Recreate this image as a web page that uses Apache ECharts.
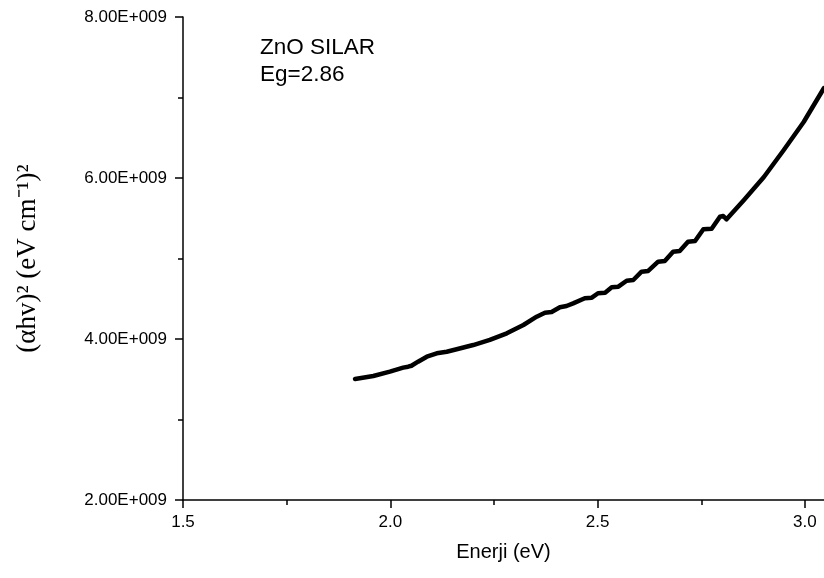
<!DOCTYPE html>
<html>
<head>
<meta charset="utf-8">
<script src="https://cdn.jsdelivr.net/npm/echarts@6/dist/echarts.min.js"></script>
<style>
  html, body { margin: 0; padding: 0; background: #fff; }
  #chart { width: 824px; height: 578px; }
</style>
</head>
<body>
<div id="chart"></div>
<script>
// Photon energy (eV)
const energy = [
  1.915, 1.959, 1.999, 2.031, 2.043, 2.051, 2.067, 2.088, 2.112, 2.136,
  2.160, 2.200, 2.240, 2.281, 2.321, 2.353, 2.373, 2.389, 2.409, 2.425,
  2.441, 2.469, 2.486, 2.501, 2.518, 2.534, 2.550, 2.570, 2.586, 2.606,
  2.622, 2.646, 2.662, 2.682, 2.698, 2.718, 2.735, 2.755, 2.775, 2.795,
  2.803, 2.811, 2.853, 2.901, 2.949, 2.997, 3.046
];

// (alpha h nu)^2 in eV^2 cm^-2
const alphaHv2 = [
  3.503e9, 3.540e9, 3.594e9, 3.644e9, 3.656e9, 3.668e9, 3.718e9, 3.780e9, 3.822e9, 3.842e9,
  3.872e9, 3.925e9, 3.988e9, 4.071e9, 4.174e9, 4.277e9, 4.327e9, 4.335e9, 4.394e9, 4.410e9,
  4.443e9, 4.506e9, 4.513e9, 4.568e9, 4.575e9, 4.642e9, 4.650e9, 4.724e9, 4.733e9, 4.836e9,
  4.845e9, 4.960e9, 4.969e9, 5.084e9, 5.093e9, 5.209e9, 5.217e9, 5.363e9, 5.370e9, 5.519e9,
  5.528e9, 5.487e9, 5.727e9, 6.012e9, 6.348e9, 6.696e9, 7.118e9
];

// Axis ticks
const xMajorTicks = [1.5, 2.0, 2.5, 3.0];
const xMinorTicks = [1.75, 2.25, 2.75];
const xRange = [1.5, 3.046];
const yRange = [2e9, 8e9];
const yStep = 2e9;

const annotation = ['ZnO SILAR', 'Eg=2.86'];

function sciLabel(v) {
  const parts = v.toExponential(2).split('e');
  const exp = parseInt(parts[1], 10);
  return parts[0] + 'E' + (exp < 0 ? '-' : '+') + String(Math.abs(exp)).padStart(3, '0');
}

const sans = 'Liberation Sans, Arial, sans-serif';
const serif = 'Liberation Serif, Times New Roman, serif';

const chart = echarts.init(document.getElementById('chart'), null, { renderer: 'canvas' });

chart.setOption({
  animation: false,
  backgroundColor: '#ffffff',
  grid: { left: 183, right: 0, top: 17, bottom: 78 },
  xAxis: [
    {
      type: 'value',
      position: 'bottom',
      min: xRange[0],
      max: xRange[1],
      name: 'Enerji (eV)',
      nameLocation: 'middle',
      nameGap: 42,
      nameTextStyle: { fontFamily: sans, fontSize: 20, color: '#000' },
      axisLine: { show: true, onZero: false, lineStyle: { color: '#000', width: 1.5 } },
      axisTick: { show: true, inside: false, length: 8, customValues: xMajorTicks,
                  lineStyle: { color: '#000', width: 1.5 } },
      axisLabel: { show: true, customValues: xMajorTicks, margin: 14,
                   fontFamily: sans, fontSize: 17, color: '#000',
                   formatter: v => v.toFixed(1) },
      splitLine: { show: false }
    },
    {
      type: 'value',
      position: 'bottom',
      min: xRange[0],
      max: xRange[1],
      axisLine: { show: false },
      axisTick: { show: true, inside: false, length: 5, customValues: xMinorTicks,
                  lineStyle: { color: '#000', width: 1.5 } },
      axisLabel: { show: false },
      splitLine: { show: false }
    }
  ],
  yAxis: {
    type: 'value',
    min: yRange[0],
    max: yRange[1],
    interval: yStep,
    name: '(αhv)² (eV cm⁻¹)²',
    nameLocation: 'middle',
    nameRotate: 90,
    nameGap: 142,
    nameTextStyle: { fontFamily: serif, fontSize: 27, color: '#000' },
    axisLine: { show: true, onZero: false, lineStyle: { color: '#000', width: 1.5 } },
    axisTick: { show: true, inside: false, length: 8, lineStyle: { color: '#000', width: 1.5 } },
    minorTick: { show: true, splitNumber: 2, length: 5, lineStyle: { color: '#000', width: 1.5 } },
    axisLabel: { margin: 16, fontFamily: sans, fontSize: 17, color: '#000', formatter: sciLabel },
    splitLine: { show: false },
    minorSplitLine: { show: false }
  },
  graphic: [
    {
      type: 'text',
      left: 260,
      top: 34,
      style: {
        text: annotation.join('\n'),
        font: '22.5px ' + sans,
        lineHeight: 27,
        fill: '#000'
      }
    }
  ],
  series: [
    {
      type: 'line',
      xAxisIndex: 0,
      data: energy.map((e, i) => [e, alphaHv2[i]]),
      showSymbol: false,
      symbol: 'none',
      smooth: false,
      lineStyle: { color: '#000', width: 4.5, cap: 'round', join: 'round' }
    }
  ]
});
</script>
</body>
</html>
